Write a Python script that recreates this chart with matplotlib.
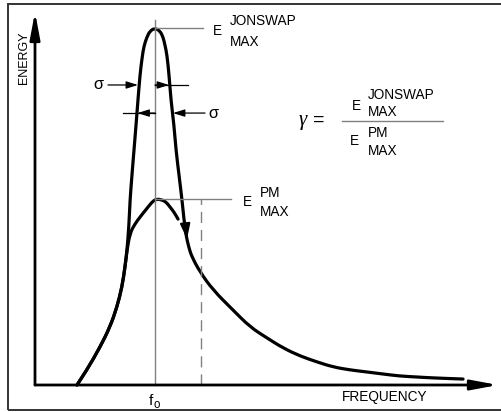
import matplotlib
matplotlib.use("Agg")
import matplotlib.pyplot as plt
from matplotlib.patches import Rectangle, PathPatch
from matplotlib.path import Path

plt.rcParams["font.family"] = ["Liberation Sans", "DejaVu Sans"]

# Spectrum shapes, frequency normalised by f0, energy by the PM peak
freq_jonswap = [0.350, 0.433, 0.542, 0.625, 0.683, 0.725, 0.750, 0.767, 0.783, 0.792,
                0.808, 0.825, 0.842, 0.858, 0.875, 0.892, 0.908, 0.933, 0.958, 1.000,
                1.042, 1.067, 1.083, 1.100, 1.117, 1.133, 1.158, 1.175, 1.200, 1.225,
                1.242, 1.258, 1.283, 1.308, 1.375, 1.483, 1.650, 1.792, 1.933, 2.067,
                2.208, 2.350, 2.483, 2.625, 2.767, 2.900, 3.042, 3.183, 3.317, 3.567]
energy_jonswap = [0.000, 0.081, 0.204, 0.312, 0.419, 0.527, 0.634, 0.726, 0.860, 0.995,
                  1.129, 1.263, 1.398, 1.532, 1.667, 1.758, 1.823, 1.871, 1.903, 1.919,
                  1.903, 1.871, 1.828, 1.774, 1.667, 1.532, 1.398, 1.263, 1.129, 0.995,
                  0.887, 0.806, 0.737, 0.688, 0.608, 0.511, 0.403, 0.312, 0.253, 0.199,
                  0.156, 0.124, 0.097, 0.081, 0.070, 0.059, 0.048, 0.043, 0.038, 0.032]

freq_pm = [0.350, 0.433, 0.542, 0.625, 0.683, 0.725, 0.750, 0.767, 0.792, 0.833,
           0.875, 0.942, 0.983, 1.017, 1.058, 1.092, 1.125, 1.158, 1.192]
energy_pm = [0.000, 0.081, 0.204, 0.312, 0.419, 0.527, 0.634, 0.726, 0.817, 0.866,
             0.903, 0.957, 0.989, 1.000, 0.995, 0.984, 0.957, 0.930, 0.892]

f0 = 1.0
f_dashed = 1.383
# sigma width markers: (energy level, left edge, right edge)
sigma_upper = (1.613, 0.858, 1.117)
sigma_lower = (1.462, 0.854, 1.150)

# page layout: pixel origin of the axes and pixels per unit
X0, Y0, SX, SY = 35, 385, 120, 186
W, H = 502, 412


def at(px, py):
    return (px - X0) / SX, (Y0 - py) / SY


def curve(xs, ys):
    # quadratic bezier through midpoints, read points act as control points
    verts = [(xs[0], ys[0])]
    codes = [Path.MOVETO]
    for i in range(1, len(xs) - 1):
        verts += [(xs[i], ys[i]), ((xs[i] + xs[i + 1]) / 2, (ys[i] + ys[i + 1]) / 2)]
        codes += [Path.CURVE3, Path.CURVE3]
    verts.append((xs[-1], ys[-1]))
    codes.append(Path.LINETO)
    return Path(verts, codes)


fig = plt.figure(figsize=(W / 100, H / 100), dpi=100)
ax = fig.add_axes([0, 0, 1, 1])
ax.set_xlim((0 - X0) / SX, (W - X0) / SX)
ax.set_ylim((Y0 - H) / SY, Y0 / SY)
ax.axis("off")

fig.patches.append(Rectangle((8 / W, 1 - 410 / H), 1.2, 406 / H, transform=fig.transFigure,
                             fill=False, edgecolor="#333333", lw=1.4))

INK = "black"
THIN = "#808080"
FS = 9.8

# axes with long arrowheads
ax_arrow = dict(arrowstyle="-|>,head_length=1.6,head_width=0.3", color=INK, lw=2.0,
                shrinkA=0, shrinkB=0, mutation_scale=10)
ax.annotate("", xy=at(35, 12), xytext=(0, 0), arrowprops=ax_arrow)
ax.annotate("", xy=at(498, 385), xytext=(0, 0), arrowprops=ax_arrow)
ax.text(*at(24, 58), "ENERGY", rotation=90, ha="center", va="center", fontsize=9)
ax.text(*at(385, 397), "FREQUENCY", ha="center", va="center", fontsize=FS)

# reference lines
e_js = max(energy_jonswap)
e_pm = max(energy_pm)
ax.plot([f0, f0], [0, at(0, 20)[1]], color=THIN, lw=1.0)
ax.plot([f0, at(203, 0)[0]], [e_js, e_js], color=THIN, lw=1.0)
ax.plot([f0, at(231, 0)[0]], [e_pm, e_pm], color=THIN, lw=1.0)
ax.plot([f_dashed, f_dashed], [0, e_pm], color=THIN, lw=1.0, dashes=(8, 5))

# spectra
for xs, ys in [(freq_pm, energy_pm), (freq_jonswap, energy_jonswap)]:
    ax.add_patch(PathPatch(curve(xs, ys), fill=False, edgecolor=INK, lw=2.3,
                           capstyle="round", joinstyle="round"))
ax.annotate("", xy=at(187, 239), xytext=at(185, 222),
            arrowprops=dict(arrowstyle="-|>,head_length=0.9,head_width=0.3", color=INK,
                            lw=1.5, shrinkA=0, shrinkB=0, mutation_scale=10))

# sigma markers
sm = dict(arrowstyle="-|>,head_length=0.7,head_width=0.22", color=INK, lw=0.9,
          shrinkA=0, shrinkB=0, mutation_scale=10)
lvl, left, right = sigma_upper
ax.annotate("", xy=(left, lvl), xytext=(at(108, 0)[0], lvl), arrowprops=sm)
ax.plot([f0, at(188, 0)[0]], [lvl, lvl], color=INK, lw=0.9)
ax.annotate("", xy=(right, lvl), xytext=(f0, lvl), arrowprops=sm)
ax.text(at(98, 0)[0], lvl, "σ", ha="center", va="center", fontsize=FS + 2)

lvl, left, right = sigma_lower
ax.plot([at(123, 0)[0], f0], [lvl, lvl], color=INK, lw=0.9)
ax.annotate("", xy=(left, lvl), xytext=(f0, lvl), arrowprops=sm)
ax.annotate("", xy=(right, lvl), xytext=(at(205, 0)[0], lvl), arrowprops=sm)
ax.text(at(213, 0)[0], lvl, "σ", ha="center", va="center", fontsize=FS + 2)

# peak labels
ax.text(*at(217, 31), "E", ha="center", va="center", fontsize=FS)
ax.text(*at(230, 21), "JONSWAP", ha="left", va="center", fontsize=FS)
ax.text(*at(230, 42), "MAX", ha="left", va="center", fontsize=FS)
ax.text(*at(247, 202), "E", ha="center", va="center", fontsize=FS)
ax.text(*at(260, 193), "PM", ha="left", va="center", fontsize=FS)
ax.text(*at(260, 212), "MAX", ha="left", va="center", fontsize=FS)

# peak enhancement factor
ax.text(*at(299, 121), "γ", ha="left", va="center", fontsize=15,
        family=["Liberation Serif", "DejaVu Serif"], style="italic")
ax.text(*at(313, 120), "=", ha="left", va="center", fontsize=14)
ax.plot([at(342, 0)[0], at(443, 0)[0]], [at(0, 121)[1]] * 2, color=THIN, lw=1.0)
ax.text(*at(356, 106), "E", ha="center", va="center", fontsize=FS)
ax.text(*at(368, 95), "JONSWAP", ha="left", va="center", fontsize=FS)
ax.text(*at(368, 112), "MAX", ha="left", va="center", fontsize=FS)
ax.text(*at(354, 141), "E", ha="center", va="center", fontsize=FS)
ax.text(*at(368, 133), "PM", ha="left", va="center", fontsize=FS)
ax.text(*at(368, 151), "MAX", ha="left", va="center", fontsize=FS)

# f0 tick label
ax.text(*at(151, 401), "f", ha="center", va="center", fontsize=FS + 1)
ax.text(*at(157, 405), "o", ha="center", va="center", fontsize=FS - 1.5)

fig.savefig("out.png", dpi=100)
